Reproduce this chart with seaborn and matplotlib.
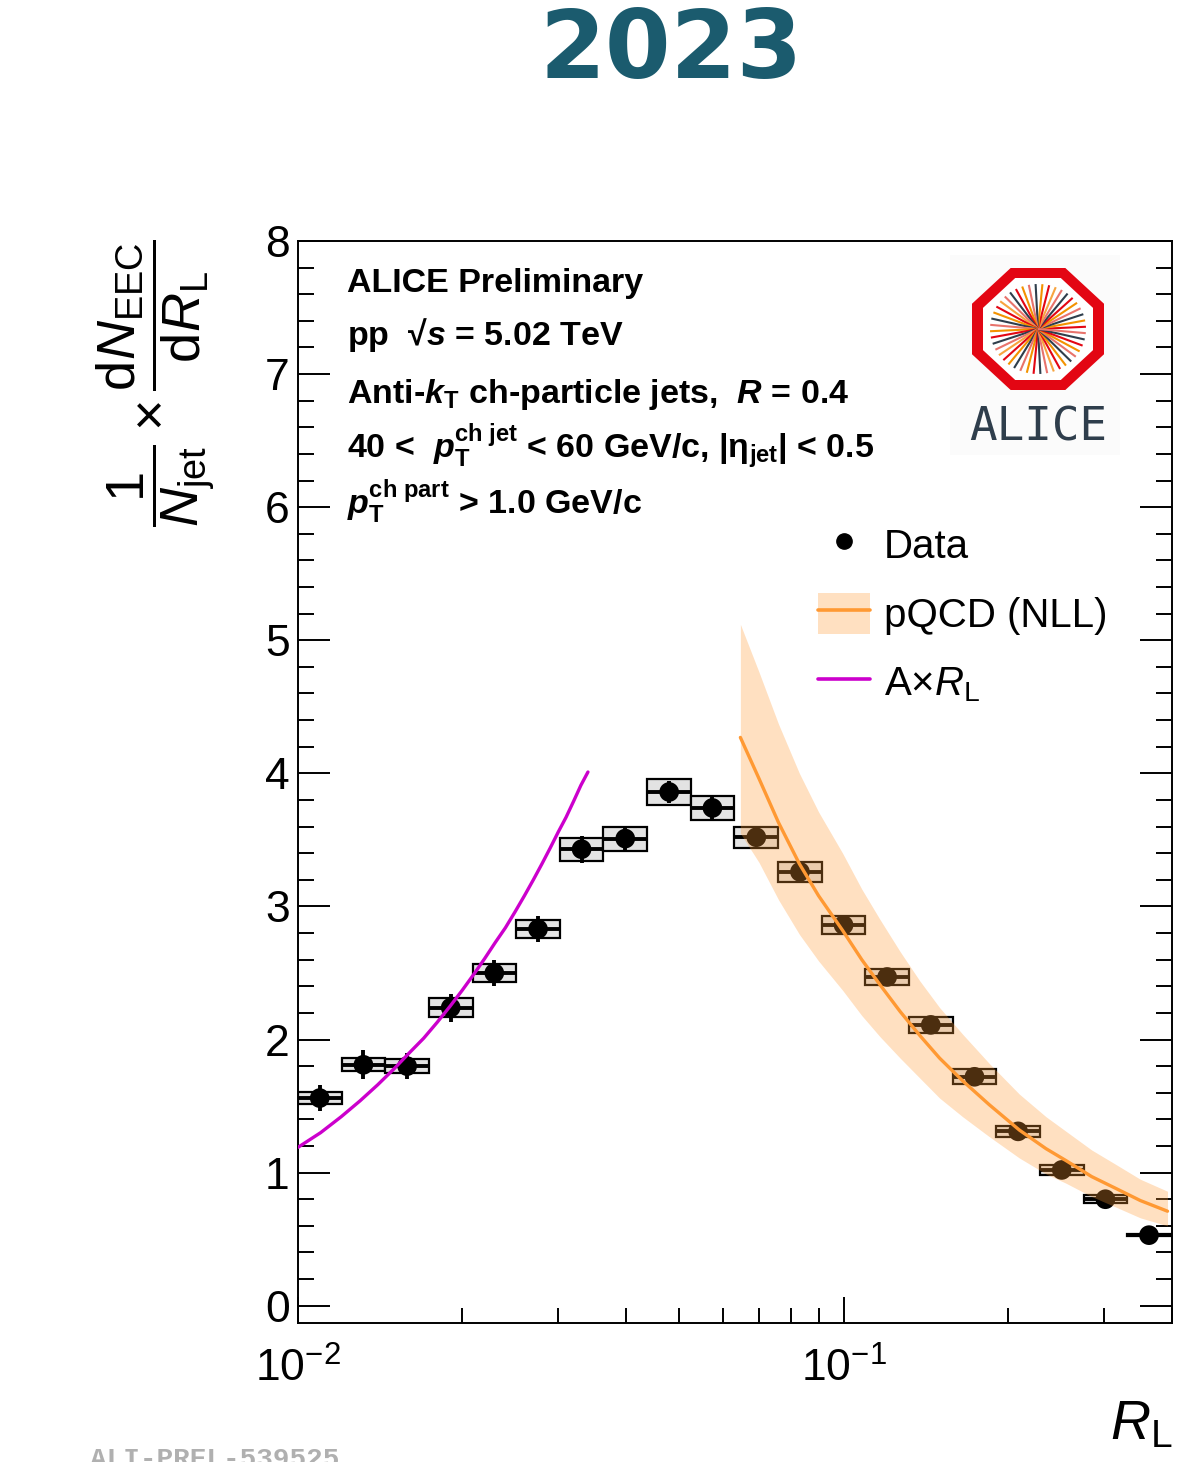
import numpy as np
import matplotlib
matplotlib.use("Agg")
import matplotlib.pyplot as plt
import seaborn as sns
from matplotlib.patches import Rectangle, Polygon, Patch
from matplotlib.lines import Line2D
from matplotlib.legend_handler import HandlerTuple
from matplotlib.ticker import MultipleLocator, FixedLocator, FixedFormatter, LogLocator, NullFormatter

# ---------------- data ----------------
rl_centers = [0.01096, 0.01318, 0.01585, 0.01905, 0.0229, 0.02754, 0.0331, 0.0398,
              0.0479, 0.0575, 0.0692, 0.0832, 0.1000, 0.1202, 0.1445, 0.1738,
              0.2089, 0.2512, 0.3020, 0.3630]
eec_values = [1.56, 1.81, 1.80, 2.24, 2.50, 2.83, 3.43, 3.51, 3.86, 3.74, 3.52, 3.26,
              2.86, 2.47, 2.11, 1.72, 1.31, 1.02, 0.80, 0.53]
eec_syst = [0.045, 0.05, 0.05, 0.07, 0.067, 0.07, 0.087, 0.09, 0.098, 0.087, 0.08, 0.075,
            0.068, 0.06, 0.06, 0.055, 0.04, 0.037, 0.03, 0.01]
eec_stat = [0.095, 0.11, 0.10, 0.105, 0.10, 0.10, 0.10, 0.087, 0.08, 0.08, 0.06, 0.05,
            0.045, 0.04, 0.035, 0.03, 0.025, 0.02, 0.015, 0.01]

pqcd_x = [0.0647, 0.070, 0.076, 0.083, 0.090, 0.0996, 0.108, 0.1167, 0.127, 0.138,
          0.150, 0.1653, 0.185, 0.210, 0.235, 0.2558, 0.285, 0.316, 0.350, 0.3925]
pqcd_mid = [4.27, 3.96, 3.63, 3.32, 3.08, 2.82, 2.60, 2.41, 2.21, 2.03,
            1.86, 1.69, 1.51, 1.32, 1.18, 1.09, 0.97, 0.88, 0.79, 0.71]
pqcd_hi = [5.12, 4.76, 4.37, 4.00, 3.71, 3.40, 3.13, 2.90, 2.66, 2.44,
           2.24, 2.04, 1.82, 1.59, 1.42, 1.31, 1.17, 1.06, 0.95, 0.86]
pqcd_lo = [3.55, 3.33, 3.05, 2.79, 2.59, 2.37, 2.18, 2.02, 1.86, 1.71,
           1.56, 1.42, 1.27, 1.11, 0.99, 0.92, 0.82, 0.74, 0.66, 0.60]

lin_x = [0.010, 0.011, 0.012, 0.013, 0.014, 0.015, 0.016, 0.017, 0.018, 0.019, 0.020,
         0.021, 0.022, 0.023, 0.024, 0.025, 0.026, 0.027, 0.028, 0.029, 0.030, 0.031,
         0.032, 0.033, 0.034]
lin_y = [1.19, 1.30, 1.42, 1.54, 1.66, 1.78, 1.90, 2.01, 2.13, 2.25, 2.37,
         2.49, 2.61, 2.73, 2.84, 2.96, 3.08, 3.20, 3.32, 3.44, 3.56, 3.67,
         3.79, 3.91, 4.01]

legend_labels = ["Data", "pQCD (NLL)", "A×$R_{\\mathrm{L}}$"]
info_lines = [
    "ALICE Preliminary",
    "pp  √$\\mathbfit{s}$ = 5.02 TeV",
    "Anti-$\\mathbfit{k}_{\\mathbf{T}}$ ch-particle jets,  $\\mathbfit{R}$ = 0.4",
    "40 <  $\\mathbfit{p}_{\\mathbf{T}}^{\\mathbf{ch\\ jet}}$ < 60 GeV/c, |$\\mathbf{\\eta}_{\\mathbf{jet}}$| < 0.5",
    "$\\mathbfit{p}_{\\mathbf{T}}^{\\mathbf{ch\\ part}}$ > 1.0 GeV/c",
]
info_baselines = [292, 345, 403, 457, 514]
x_tick_vals = [0.01, 0.1]
x_tick_labels = ["$10^{-2}$", "$10^{-1}$"]

# ---------------- style ----------------
sns.set_theme(style="ticks")
plt.rcParams["font.family"] = ["Liberation Sans", "DejaVu Sans"]
plt.rcParams["mathtext.fontset"] = "custom"
plt.rcParams["mathtext.rm"] = "Liberation Sans"
plt.rcParams["mathtext.it"] = "Liberation Sans:italic"
plt.rcParams["mathtext.bf"] = "Liberation Sans:bold"
plt.rcParams["mathtext.bfit"] = "Liberation Sans:italic:bold"
plt.rcParams["mathtext.sf"] = "Liberation Sans"
for k in ["text.color", "axes.labelcolor", "xtick.color", "ytick.color", "axes.edgecolor"]:
    plt.rcParams[k] = "black"

W, H = 1204, 1462
fig = plt.figure(figsize=(W / 100, H / 100), dpi=100)
fig.patch.set_facecolor("white")
ax = fig.add_axes([298 / W, 1 - 1323 / H, (1172 - 298) / W, (1323 - 241) / H])
ax.set_facecolor("white")
ax.set_xscale("log")

# bin edges from centres (geometric midpoints)
xc = np.array(rl_centers)
mids = np.sqrt(xc[:-1] * xc[1:])
edges = np.concatenate([[xc[0] ** 2 / mids[0]], mids, [xc[-1] ** 2 / mids[-1]]])

for i, (x, y) in enumerate(zip(rl_centers, eec_values)):
    s = eec_syst[i]
    ax.add_patch(Rectangle((edges[i], y - s), edges[i + 1] - edges[i], 2 * s,
                           facecolor="#e3e3e3", edgecolor="black", lw=1.6, zorder=2))
ax.hlines(eec_values, edges[:-1], edges[1:], color="black", lw=2.8, zorder=3)
ax.vlines(rl_centers, np.array(eec_values) - np.array(eec_stat),
          np.array(eec_values) + np.array(eec_stat), color="black", lw=2.8, zorder=3)
sns.scatterplot(x=rl_centers, y=eec_values, ax=ax, color="black", s=200,
                edgecolor="none", zorder=4, legend=False)

# pQCD band over the data
ax.fill_between(pqcd_x, pqcd_lo, pqcd_hi, color="#ff9933", alpha=0.3, lw=0, zorder=5)
sns.lineplot(x=pqcd_x, y=pqcd_mid, ax=ax, color="#ff9933", lw=2.4, zorder=6,
             estimator=None, legend=False)
sns.lineplot(x=lin_x, y=lin_y, ax=ax, color="#cc00cc", lw=2.4, zorder=6,
             estimator=None, legend=False)

ax.set_xlim(0.01, 0.4)
ax.set_ylim(-0.13, 8)
ax.set_xlabel("")
ax.set_ylabel("")

ax.yaxis.set_major_locator(FixedLocator(list(range(0, 9))))
ax.yaxis.set_minor_locator(MultipleLocator(0.2))
ax.xaxis.set_major_locator(FixedLocator(x_tick_vals))
ax.xaxis.set_major_formatter(FixedFormatter(x_tick_labels))
ax.xaxis.set_minor_locator(LogLocator(base=10, subs=np.arange(2, 10)))
ax.xaxis.set_minor_formatter(NullFormatter())

ax.tick_params(axis="y", which="major", direction="in", length=23, width=1.4,
               left=True, right=True, labelsize=32, pad=6)
ax.tick_params(axis="y", which="minor", direction="in", length=11.5, width=1.4,
               left=True, right=True)
ax.tick_params(axis="x", which="major", direction="in", length=19, width=1.4,
               top=False, bottom=True, labelsize=32, pad=18)
ax.tick_params(axis="x", which="minor", direction="in", length=11, width=1.4,
               top=False, bottom=True)
for sp in ax.spines.values():
    sp.set_linewidth(1.4)
    sp.set_color("black")
    sp.set_visible(True)

# axis titles
fig.text(1172 / W, 1 - 1425 / H, "$R_{\\mathrm{L}}$", ha="right", va="center", fontsize=40)
fig.text(156 / W, 1 - 383 / H,
         "$\\dfrac{1}{N_{\\mathrm{jet}}}\\times\\dfrac{\\mathrm{d}N_{\\mathrm{EEC}}}{\\mathrm{d}R_{\\mathrm{L}}}$",
         rotation=90, ha="center", va="center", fontsize=39)

# info text
for txt, base in zip(info_lines, info_baselines):
    fig.text(347 / W, 1 - base / H, txt, fontsize=24.5, fontweight="bold", va="baseline", ha="left")

# legend
h_data = Line2D([], [], marker="o", color="black", ls="none", markersize=11)
h_pqcd = (Patch(facecolor="#ff9933", alpha=0.3, edgecolor="none"),
          Line2D([], [], color="#ff9933", lw=2.6))
h_lin = Line2D([], [], color="#cc00cc", lw=2.6)
fig.legend([h_data, h_pqcd, h_lin], legend_labels, loc="upper left",
           bbox_to_anchor=(818 / W, 1 - 524 / H), frameon=False, fontsize=29,
           handlelength=1.3, handleheight=1.2, handletextpad=0.33, labelspacing=0.66,
           borderpad=0, borderaxespad=0,
           handler_map={tuple: HandlerTuple(ndivide=1, pad=0)})

# title
fig.text(671 / W, 1 - 52 / H, "2023", fontsize=68, fontweight="bold", color="#1b5b6e",
         family=["DejaVu Sans"], ha="center", va="center")

# watermark
fig.text(90 / W, 1 - 1447 / H, "ALI-PREL-539525", family=["Liberation Mono", "DejaVu Sans Mono"],
         fontsize=20, color="#b0b0b0", fontweight="bold", va="top", ha="left")

# ALICE logo
lax = fig.add_axes([950 / W, 1 - 455 / H, 170 / W, 200 / H])
lax.set_xlim(0, 170)
lax.set_ylim(0, 200)
lax.axis("off")
lax.add_patch(Rectangle((0, 0), 170, 200, facecolor="#fbfbfb", edgecolor="none", zorder=0))
cx, cy = 88, 126
ang = np.deg2rad(22.5 + 45 * np.arange(8))
k = 1 / np.cos(np.deg2rad(22.5))
outer = np.column_stack([cx + 66 * k * np.cos(ang), cy + 61 * k * np.sin(ang)])
inner = np.column_stack([cx + 55 * k * np.cos(ang), cy + 51 * k * np.sin(ang)])
lax.add_patch(Polygon(outer, closed=True, facecolor="#e30613", edgecolor="none", zorder=1))
lax.add_patch(Polygon(inner, closed=True, facecolor="white", edgecolor="none", zorder=2))
spoke_cols = ["#e30613", "#f39200", "#2f3e4c", "#e8736c", "#f39200", "#e30613", "#2f3e4c",
              "#e8736c", "#f7a440"]
n_sp = 44
for j in range(n_sp):
    a = 2 * np.pi * j / n_sp + 0.05
    lax.plot([cx, cx + 48 * np.cos(a)], [cy, cy + 45 * np.sin(a)],
             color=spoke_cols[j % len(spoke_cols)], lw=1.5, zorder=3, solid_capstyle="butt")
lax.text(88, 27, "ALICE", ha="center", va="center", fontsize=33, color="#2f3e4c",
         family=["DejaVu Sans Mono"])

fig.savefig("out.png", dpi=100, facecolor="white")
